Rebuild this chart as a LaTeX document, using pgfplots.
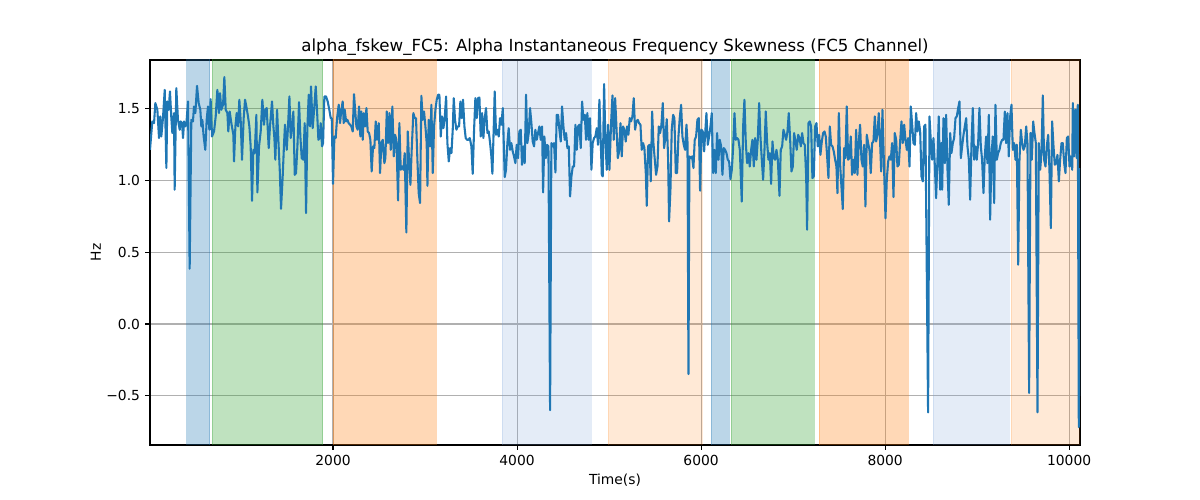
\documentclass[border=0pt]{standalone}
\usepackage{pgfplots}
\pgfplotsset{compat=1.18}
\usepackage{pgfplotstable}
\usepackage{fontspec}
\setmainfont{DejaVu Sans}
\definecolor{tabblue}{RGB}{31,119,180}
\definecolor{lightspan}{RGB}{120,160,215}
\definecolor{taborange}{RGB}{255,127,14}
\definecolor{tabgreen}{RGB}{44,160,44}
\definecolor{gridgray}{RGB}{176,176,176}
\pgfplotstableread{
x y
11 1.214
36 1.412
55 1.400
69 1.540
91 1.493
109 1.296
123 1.447
134 1.307
152 1.435
171 1.632
189 1.087
199 1.551
214 1.493
228 1.621
243 1.435
254 1.331
272 1.470
279 0.936
297 1.644
315 1.423
334 1.354
344 1.412
359 1.400
370 1.296
381 1.412
395 1.377
406 1.389
424 1.551
442 0.385
460 1.423
478 1.412
489 1.516
504 1.470
522 1.660
540 1.540
558 1.493
569 1.377
580 1.423
594 1.307
612 1.214
627 1.423
641 1.516
656 1.354
670 1.567
685 1.307
707 1.342
725 1.447
743 1.632
761 1.470
772 1.609
786 1.493
805 1.528
819 1.721
834 1.493
852 1.470
862 1.342
877 1.481
895 1.400
917 1.319
924 1.133
939 1.377
953 1.470
968 1.377
982 1.563
997 1.412
1011 1.145
1029 1.435
1044 1.563
1058 1.516
1076 1.447
1091 1.377
1105 1.238
1120 0.859
1134 1.214
1149 1.191
1167 1.458
1178 0.917
1196 1.238
1214 1.342
1232 1.563
1250 1.389
1265 1.493
1279 1.505
1301 1.226
1315 1.377
1337 1.551
1352 1.377
1363 1.296
1373 1.145
1392 1.493
1406 1.284
1421 1.075
1435 0.803
1453 1.029
1468 1.261
1478 1.389
1497 1.214
1511 1.377
1526 1.586
1540 1.296
1555 1.377
1569 1.481
1584 1.040
1598 1.052
1613 1.238
1631 1.546
1645 1.307
1660 1.156
1678 1.145
1692 1.400
1707 0.773
1721 1.365
1736 1.598
1750 1.377
1761 1.656
1779 1.365
1797 1.516
1812 1.656
1826 1.493
1841 1.284
1855 1.296
1866 1.400
1881 1.238
1892 1.261
1906 1.586
1924 1.586
1942 1.551
1960 1.493
1975 1.435
1986 1.435
2000 0.977
2015 1.307
2029 1.296
2044 1.435
2062 1.528
2076 1.400
2091 1.493
2105 1.551
2116 1.400
2127 1.493
2142 1.412
2156 1.423
2170 1.400
2185 1.389
2199 1.377
2214 1.342
2228 1.602
2243 1.470
2254 1.377
2268 1.354
2283 1.516
2297 1.307
2308 1.481
2323 1.284
2334 1.470
2348 1.377
2363 1.505
2377 1.342
2392 1.331
2406 1.284
2420 1.063
2435 1.238
2449 1.226
2464 1.412
2478 1.284
2497 1.400
2511 1.052
2526 1.261
2540 1.284
2558 1.121
2569 1.156
2584 1.481
2598 1.261
2613 1.470
2627 1.214
2645 1.516
2660 1.168
2674 1.319
2689 1.284
2707 0.861
2721 1.400
2736 1.075
2750 1.098
2765 1.075
2779 1.191
2797 0.638
2812 1.342
2826 1.145
2841 0.970
2855 1.214
2873 1.470
2888 1.435
2902 1.435
2917 1.145
2931 0.912
2946 0.843
2960 1.591
2975 1.423
2989 1.481
3004 1.377
3018 1.261
3026 0.963
3040 1.423
3055 1.238
3069 1.528
3084 1.052
3098 1.377
3113 1.493
3127 1.563
3142 1.598
3156 1.598
3171 1.307
3185 1.447
3200 1.365
3214 1.435
3229 1.586
3243 1.261
3258 1.133
3272 1.226
3287 1.191
3301 1.354
3312 1.574
3326 1.423
3341 1.354
3355 1.377
3370 1.377
3384 1.551
3399 1.435
3413 1.563
3428 1.377
3442 1.296
3457 1.284
3471 1.284
3486 1.296
3504 1.238
3518 1.047
3533 1.354
3547 1.574
3562 1.435
3576 1.574
3591 1.579
3605 1.307
3620 1.470
3634 1.296
3649 1.435
3663 1.505
3678 1.331
3692 1.342
3707 1.261
3721 1.168
3732 1.047
3747 1.377
3757 1.621
3772 1.319
3786 1.354
3801 1.307
3815 1.435
3830 1.389
3845 1.505
3866 1.024
3880 1.075
3895 1.261
3909 1.365
3924 1.214
3938 1.261
3953 1.203
3967 1.168
3982 1.121
3996 1.249
4011 1.156
4025 1.342
4040 1.354
4054 1.110
4069 1.238
4083 1.121
4098 1.598
4112 1.261
4127 1.331
4141 1.505
4156 1.400
4170 1.272
4185 1.238
4199 1.354
4214 1.284
4228 1.331
4243 1.377
4257 1.284
4272 1.377
4283 0.917
4297 1.307
4312 1.156
4326 1.249
4341 1.238
4359 -0.600
4373 1.261
4388 1.238
4402 1.261
4417 1.056
4431 1.458
4446 1.458
4460 1.354
4475 1.272
4489 1.516
4504 1.377
4518 1.284
4533 1.331
4547 1.226
4562 1.238
4576 0.889
4591 1.029
4605 1.098
4620 1.098
4634 1.389
4649 1.214
4663 1.377
4678 1.389
4692 1.226
4707 1.551
4721 1.423
4736 1.458
4750 1.284
4764 1.470
4779 1.284
4793 1.435
4808 1.075
4822 1.261
4837 1.296
4851 1.307
4866 1.365
4880 1.249
4895 1.563
4921 1.040
4931 1.029
4946 1.672
4960 1.284
4975 1.075
4989 1.389
5004 1.075
5022 1.400
5037 1.593
5051 1.284
5066 1.574
5080 1.377
5095 1.156
5109 1.203
5124 1.400
5138 1.168
5152 1.377
5167 1.354
5181 1.272
5196 1.377
5210 1.319
5225 1.435
5239 1.412
5254 1.447
5268 1.574
5283 1.354
5297 1.412
5312 1.423
5326 1.400
5341 1.389
5355 1.214
5370 1.261
5384 1.226
5399 1.052
5410 0.824
5424 1.238
5439 1.249
5453 0.994
5468 1.481
5482 1.261
5497 1.145
5511 1.040
5526 1.098
5540 1.377
5555 1.331
5569 1.389
5584 1.540
5598 1.226
5613 1.307
5627 1.428
5642 1.145
5652 0.715
5667 0.936
5681 1.354
5696 1.458
5710 1.435
5725 1.052
5739 1.052
5754 1.307
5768 1.435
5783 1.528
5797 1.307
5812 1.249
5826 1.214
5841 1.389
5852 1.272
5863 -0.349
5873 1.168
5888 1.156
5902 1.168
5917 1.087
5931 1.284
5946 1.307
5960 1.423
5975 1.435
5989 0.929
6004 1.354
6018 1.342
6033 1.203
6047 1.354
6058 1.470
6073 1.249
6087 1.307
6102 1.377
6116 1.470
6131 1.052
6145 1.214
6160 1.052
6174 1.331
6189 1.145
6203 1.284
6218 1.238
6232 1.040
6247 1.226
6261 1.214
6276 1.191
6290 1.145
6305 1.133
6319 1.010
6334 1.075
6348 1.226
6363 1.470
6377 1.284
6392 1.296
6406 1.284
6421 1.214
6442 0.854
6457 1.377
6471 1.563
6486 1.261
6500 1.121
6515 1.191
6529 1.098
6544 1.214
6558 1.284
6573 1.098
6587 1.296
6602 1.145
6616 1.284
6631 1.540
6645 1.307
6660 1.145
6674 1.005
6689 1.214
6703 1.481
6718 1.261
6732 1.145
6747 1.191
6761 0.977
6776 1.272
6790 1.156
6805 1.145
6819 1.214
6834 1.145
6852 0.894
6866 1.214
6881 1.238
6895 1.354
6910 1.319
6924 1.284
6939 1.342
6953 1.470
6968 1.284
6982 1.063
6997 1.098
7011 1.331
7026 1.272
7040 1.214
7055 1.319
7069 1.296
7084 1.238
7098 1.331
7113 1.261
7127 1.249
7142 1.029
7152 0.657
7167 1.400
7181 1.412
7196 1.377
7210 1.017
7225 1.029
7239 1.377
7254 1.400
7268 1.238
7283 1.319
7297 1.179
7312 1.272
7326 1.331
7341 1.342
7355 1.307
7370 1.168
7384 1.017
7399 1.377
7413 1.249
7428 1.238
7442 1.203
7457 1.145
7471 1.098
7482 0.912
7497 1.470
7512 1.100
7540 0.801
7554 1.226
7569 1.156
7583 1.516
7598 1.145
7612 1.156
7627 1.307
7641 1.040
7656 1.145
7670 1.052
7685 1.354
7699 1.040
7714 1.272
7728 1.389
7743 1.145
7757 1.098
7772 1.249
7786 0.819
7801 1.319
7815 1.261
7830 1.214
7844 1.052
7859 1.261
7873 1.272
7888 1.447
7902 1.272
7917 1.319
7931 1.470
7946 1.261
7957 1.063
7971 1.493
7986 1.145
8004 0.736
8018 1.005
8033 1.133
8047 1.168
8062 1.145
8076 1.261
8091 0.884
8105 1.331
8120 1.284
8134 1.098
8149 1.110
8163 1.272
8178 1.412
8192 1.261
8207 1.389
8221 1.284
8236 1.214
8250 1.296
8265 1.098
8279 1.516
8294 1.389
8308 1.261
8323 1.249
8337 1.470
8352 1.342
8366 1.412
8381 1.342
8395 1.029
8410 0.994
8424 1.377
8438 1.389
8467 -0.616
8482 1.447
8496 1.284
8511 1.145
8525 1.296
8540 1.110
8554 0.877
8569 1.145
8583 1.447
8598 0.936
8612 1.261
8620 0.936
8634 1.435
8649 1.121
8663 1.458
8678 1.075
8692 0.831
8707 1.331
8721 1.191
8736 1.261
8750 1.296
8765 1.435
8779 1.447
8794 1.505
8808 1.551
8823 1.156
8837 1.238
8852 1.319
8866 1.377
8881 1.435
8895 1.238
8910 1.145
8924 0.866
8939 1.261
8953 1.505
8967 1.145
8982 1.238
8996 1.145
9011 1.261
9025 1.505
9040 1.238
9054 1.145
9069 0.912
9083 1.168
9098 1.307
9112 1.121
9127 1.458
9141 0.727
9156 1.168
9170 1.307
9185 0.843
9199 1.528
9214 1.145
9228 1.191
9243 1.214
9257 1.261
9272 1.284
9286 1.284
9301 1.481
9315 1.261
9330 1.470
9344 1.168
9359 1.447
9373 1.528
9388 1.214
9402 1.261
9417 1.145
9431 1.250
9446 0.413
9460 1.145
9475 1.354
9489 1.261
9504 1.214
9518 1.238
9533 1.377
9547 1.261
9565 -0.481
9580 1.331
9594 1.145
9609 1.412
9623 1.331
9638 1.261
9656 -0.616
9670 1.261
9685 1.075
9699 1.191
9714 1.593
9728 1.145
9743 1.098
9757 1.238
9772 1.319
9786 1.075
9801 0.668
9815 1.412
9830 1.238
9844 1.110
9859 1.121
9873 1.179
9888 0.994
9902 1.145
9917 1.261
9931 1.261
9946 1.121
9960 1.052
9975 1.296
9989 1.307
10004 1.098
10018 1.168
10033 1.075
10040 1.540
10054 1.168
10069 1.493
10083 1.156
10094 1.528
10105 -0.718
10118 1.087
}\datatable
\begin{document}
\begin{tikzpicture}
\path[use as bounding box] (0,0) rectangle (1200bp,500bp);
\begin{axis}[
  at={(150bp,55bp)}, anchor=south west,
  scale only axis, width=930bp, height=385bp,
  xmin=11, xmax=10118, ymin=-0.843, ymax=1.84,
  scaled x ticks=false, scaled y ticks=false,
  xtick={2000,4000,6000,8000,10000},
  xticklabels={2000,4000,6000,8000,10000},
  ytick={-0.5,0,0.5,1,1.5},
  yticklabels={−0.5,0.0,0.5,1.0,1.5},
  xtick pos=left, ytick pos=left,
  tick align=outside, major tick length=4.9bp,
  tick style={black, line width=1.1bp},
  axis line style={line width=1.1bp},
  tick label style={font=\fontsize{13.9}{16}\selectfont},
  xticklabel style={inner sep=0pt, yshift=-4.9bp},
  yticklabel style={inner sep=0pt, xshift=-4.9bp},
  xmajorgrids, ymajorgrids,
  major grid style={gridgray, line width=1.1bp},
  title={alpha\_fskew\_FC5: Alpha Instantaneous Frequency Skewness (FC5 Channel)},
  title style={at={(0.5,1)}, anchor=base, yshift=2.5bp, inner sep=0pt, font=\fontsize{16.7}{20}\selectfont},
  xlabel={Time(s)},
  xlabel style={at={(0.5,-0.0753)}, anchor=north, inner sep=0pt, font=\fontsize{13.9}{16}\selectfont},
  ylabel={Hz},
  ylabel style={at={(-0.0527,0.5)}, anchor=south, inner sep=0pt, font=\fontsize{13.9}{16}\selectfont},
]
% shaded spans
\addplot[draw=tabblue, draw opacity=0.3, fill=tabblue, fill opacity=0.3, line width=1bp] coordinates {(413,-1) (413,2) (663,2) (663,-1)};
\addplot[draw=tabgreen, draw opacity=0.3, fill=tabgreen, fill opacity=0.3, line width=1bp] coordinates {(685,-1) (685,2) (1891,2) (1891,-1)};
\addplot[draw=taborange, draw opacity=0.3, fill=taborange, fill opacity=0.3, line width=1bp] coordinates {(2000,-1) (2000,2) (3120,2) (3120,-1)};
\addplot[draw=lightspan, draw opacity=0.2, fill=lightspan, fill opacity=0.2, line width=1bp] coordinates {(3837,-1) (3837,2) (4804,2) (4804,-1)};
\addplot[draw=taborange, draw opacity=0.17, fill=taborange, fill opacity=0.17, line width=1bp] coordinates {(4989,-1) (4989,2) (6011,2) (6011,-1)};
\addplot[draw=tabblue, draw opacity=0.3, fill=tabblue, fill opacity=0.3, line width=1bp] coordinates {(6109,-1) (6109,2) (6304,2) (6304,-1)};
\addplot[draw=tabgreen, draw opacity=0.3, fill=tabgreen, fill opacity=0.3, line width=1bp] coordinates {(6326,-1) (6326,2) (7228,2) (7228,-1)};
\addplot[draw=taborange, draw opacity=0.3, fill=taborange, fill opacity=0.3, line width=1bp] coordinates {(7283,-1) (7283,2) (8250,2) (8250,-1)};
\addplot[draw=lightspan, draw opacity=0.2, fill=lightspan, fill opacity=0.2, line width=1bp] coordinates {(8522,-1) (8522,2) (9348,2) (9348,-1)};
\addplot[draw=taborange, draw opacity=0.17, fill=taborange, fill opacity=0.17, line width=1bp] coordinates {(9370,-1) (9370,2) (10130,2) (10130,-1)};
% signal
\addplot[tabblue, line width=2.08bp, line join=round, mark=none] table[x=x, y=y] {\datatable};
\end{axis}
\end{tikzpicture}
\end{document}
